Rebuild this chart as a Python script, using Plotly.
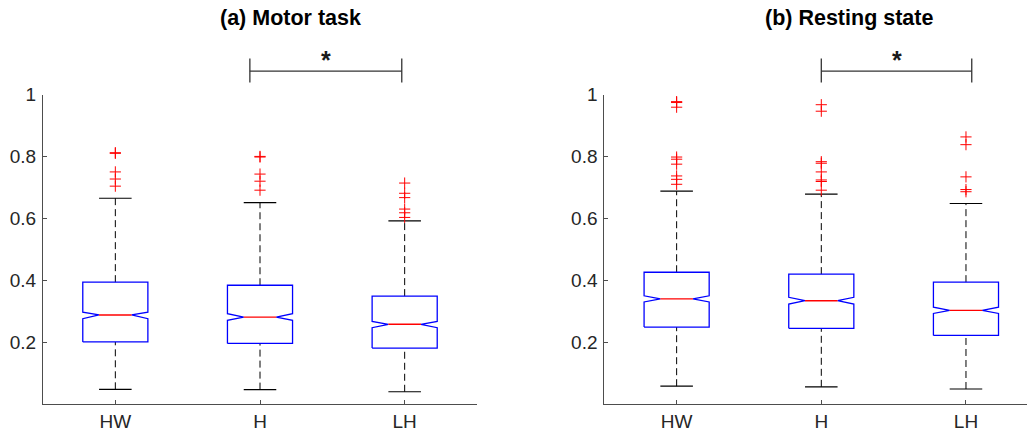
import plotly.graph_objects as go

# ---------------- data ----------------
categories = ["HW", "H", "LH"]
positions = [1, 2, 3]

motor_q1 = [0.202, 0.197, 0.182]
motor_median = [0.289, 0.282, 0.259]
motor_q3 = [0.395, 0.385, 0.350]
motor_notch_lo = [0.277, 0.272, 0.248]
motor_notch_hi = [0.298, 0.293, 0.268]
motor_lower = [0.049, 0.048, 0.041]
motor_upper = [0.666, 0.652, 0.593]
motor_outliers = [
    [0.813, 0.811, 0.751, 0.728, 0.705],
    [0.801, 0.799, 0.744, 0.721, 0.692],
    [0.715, 0.682, 0.668, 0.631, 0.619, 0.604],
]

rest_q1 = [0.250, 0.246, 0.223]
rest_median = [0.341, 0.335, 0.304]
rest_q3 = [0.427, 0.421, 0.395]
rest_notch_lo = [0.331, 0.324, 0.294]
rest_notch_hi = [0.351, 0.346, 0.314]
rest_lower = [0.059, 0.057, 0.050]
rest_upper = [0.689, 0.679, 0.649]
rest_outliers = [
    [0.978, 0.975, 0.960, 0.799, 0.792, 0.776, 0.738, 0.727, 0.711],
    [0.968, 0.947, 0.784, 0.779, 0.751, 0.725, 0.720, 0.692],
    [0.864, 0.839, 0.735, 0.694, 0.687],
]

titles = ["(a) Motor task", "(b) Resting state"]
sig_x_motor = [1.93, 2.98]
sig_x_rest = [2.0, 3.04]
sig_line_y = 1.0765
sig_tick_lo = 1.040
sig_tick_hi = 1.117
sig_label = "*"

ytick_vals = [0.2, 0.4, 0.6, 0.8, 1.0]
ytick_text = ["0.2", "0.4", "0.6", "0.8", "1"]

# ---------------- styling / geometry ----------------
W, H = 1027, 434
BOX_W = 0.45
FONT = "Liberation Sans, Arial, Helvetica, sans-serif"
BLUE = "#0000ff"
RED = "#ff0000"
AXIS_COL = "#4d4d4d"
TEXT_COL = "#262626"

# observed vertical placement of the figure in the page (offset / effective height)
TOP_OFF, EFF_H = 9.0, 425.0


def yfrac(ypx):
    return 1 - (ypx - TOP_OFF) / EFF_H


# pixel layout of the two axes boxes (reference pixels)
left_px = [(43, 477), (604.3, 1027)]
y_top_px, y_bot_px = 94.0, 404.4
ydom = [yfrac(y_bot_px), yfrac(y_top_px)]
px_per_unit = (left_px[0][1] - left_px[0][0]) / 3.0

fig = go.Figure()


def add_panel(xa, ya, q1, med, q3, nlo, nhi, lo, up, outs):
    bx, by, mx, my, wx, wy, cx, cy, ox, oy = [], [], [], [], [], [], [], [], [], []
    for i, p in enumerate(positions):
        l, r = p - BOX_W / 2, p + BOX_W / 2
        li, ri = p - BOX_W / 4, p + BOX_W / 4
        bx += [l, l, li, l, l, r, r, ri, r, r, l, None]
        by += [q1[i], nlo[i], med[i], nhi[i], q3[i], q3[i], nhi[i], med[i], nlo[i], q1[i], q1[i], None]
        mx += [li, ri, None]
        my += [med[i], med[i], None]
        wx += [p, p, None, p, p, None]
        wy += [q3[i], up[i], None, lo[i], q1[i], None]
        cx += [li, ri, None, li, ri, None]
        cy += [up[i], up[i], None, lo[i], lo[i], None]
        ox += [p] * len(outs[i])
        oy += outs[i]
    common = dict(xaxis=xa, yaxis=ya, showlegend=False, hoverinfo="skip")
    fig.add_trace(go.Scatter(x=wx, y=wy, mode="lines",
                             line=dict(color="black", width=1, dash="7px,4px"), **common))
    fig.add_trace(go.Scatter(x=cx, y=cy, mode="lines",
                             line=dict(color="black", width=1.2), **common))
    fig.add_trace(go.Scatter(x=bx, y=by, mode="lines",
                             line=dict(color=BLUE, width=1.3), **common))
    fig.add_trace(go.Scatter(x=mx, y=my, mode="lines",
                             line=dict(color=RED, width=1.3), **common))
    fig.add_trace(go.Scatter(x=ox, y=oy, mode="markers",
                             marker=dict(symbol="cross-thin", size=8,
                                         line=dict(color=RED, width=1)),
                             cliponaxis=False, **common))


def add_bracket(xa, ya, sx):
    common = dict(xaxis=xa, yaxis=ya, showlegend=False, hoverinfo="skip")
    fig.add_trace(go.Scatter(
        x=[sx[0], sx[0], None, sx[0], sx[1], None, sx[1], sx[1]],
        y=[sig_tick_lo, sig_tick_hi, None, sig_line_y, sig_line_y, None, sig_tick_lo, sig_tick_hi],
        mode="lines", line=dict(color="#333333", width=1.3), **common))
    fig.add_annotation(x=(sx[0] + sx[1]) / 2, y=sig_line_y, xref=xa, yref=ya,
                       text="<b>" + sig_label + "</b>", showarrow=False,
                       yanchor="bottom", yshift=-5,
                       font=dict(family=FONT, size=25, color="#1a1a1a"))


add_panel("x", "y", motor_q1, motor_median, motor_q3, motor_notch_lo, motor_notch_hi,
          motor_lower, motor_upper, motor_outliers)
add_panel("x2", "y2", rest_q1, rest_median, rest_q3, rest_notch_lo, rest_notch_hi,
          rest_lower, rest_upper, rest_outliers)
add_bracket("x", "y3", sig_x_motor)
add_bracket("x2", "y4", sig_x_rest)

tickfont = dict(family=FONT, size=19, color=TEXT_COL)
xcommon = dict(showline=True, linecolor=AXIS_COL, linewidth=1, ticks="inside", ticklen=4,
               tickcolor=AXIS_COL, tickvals=positions, ticktext=categories,
               showgrid=False, zeroline=False, tickfont=tickfont, mirror=False, fixedrange=True)
ycommon = dict(showline=True, linecolor=AXIS_COL, linewidth=1, ticks="inside", ticklen=4,
               tickcolor=AXIS_COL, tickvals=ytick_vals, ticktext=ytick_text, range=[0, 1],
               showgrid=False, zeroline=False, tickfont=tickfont, mirror=False, fixedrange=True,
               domain=ydom, ticklabelstandoff=2)
# invisible axes sharing the same scale but extending above the plot, for the brackets
ext_top = (1 - ydom[0]) / (ydom[1] - ydom[0])
yext = dict(visible=False, range=[0, ext_top], domain=[ydom[0], 1.0], fixedrange=True,
            showgrid=False, zeroline=False)

x2_end = 0.5 + (left_px[1][1] - left_px[1][0]) / px_per_unit

fig.update_layout(
    width=W, height=H,
    margin=dict(l=0, r=0, t=0, b=0),
    paper_bgcolor="white", plot_bgcolor="rgba(0,0,0,0)",
    xaxis=dict(domain=[left_px[0][0] / W, left_px[0][1] / W], range=[0.5, 3.5], anchor="y", **xcommon),
    yaxis=dict(anchor="x", **ycommon),
    xaxis2=dict(domain=[left_px[1][0] / W, left_px[1][1] / W], range=[0.5, x2_end], anchor="y2", **xcommon),
    yaxis2=dict(anchor="x2", **ycommon),
    yaxis3=dict(anchor="x", **yext),
    yaxis4=dict(anchor="x2", **yext),
)

title_x_px = [290, 849]
for t, xp in zip(titles, title_x_px):
    fig.add_annotation(x=xp / W, y=yfrac(17), xref="paper", yref="paper",
                       text="<b>" + t + "</b>", showarrow=False,
                       xanchor="center", yanchor="middle",
                       font=dict(family=FONT, size=21.5, color="black"))

fig.write_html("out.html", config={"displayModeBar": False},
               post_script="document.body.style.margin='0';document.body.style.overflow='hidden';")
